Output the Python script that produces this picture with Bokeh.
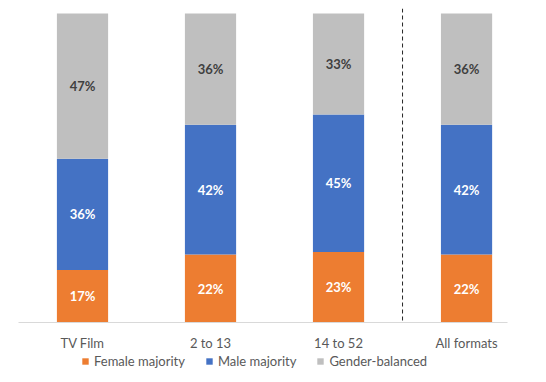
import numpy as np
from bokeh.plotting import figure
from bokeh.layouts import column
from bokeh.models import ColumnDataSource, Range1d, Span, Legend, LegendItem, FixedTicker
from bokeh.core.properties import value
from bokeh.embed import file_html
from bokeh.resources import INLINE

categories = ["TV Film", "2 to 13", "14 to 52", "All formats"]
female = [17, 22, 23, 22]
male = [36, 42, 45, 42]
balanced = [47, 36, 33, 36]
series_names = ["Female majority", "Male majority", "Gender-balanced"]
colors = ["#ED7D31", "#4472C4", "#BFBFBF"]
label_colors = ["white", "white", "#404040"]

FONT = "Lato"

p = figure(frame_width=489, frame_height=314, output_backend="svg", toolbar_location=None,
           x_range=Range1d(-0.5, 3.32), y_range=Range1d(0, 101.6),
           min_border_left=18, min_border_right=23, min_border_top=8, min_border_bottom=0)
p.outline_line_color = None
p.grid.grid_line_color = None
p.yaxis.visible = False

xs = np.arange(len(categories))
vals = np.array([female, male, balanced], dtype=float)
totals = vals.sum(axis=0)
shares = vals / totals * 100

bottom = np.zeros(len(categories))
for i, name in enumerate(series_names):
    top = bottom + shares[i]
    src = ColumnDataSource(dict(x=xs, bottom=bottom, top=top,
                                mid=(bottom + top) / 2,
                                lab=[f"{int(v)}%" for v in vals[i]]))
    p.vbar(x="x", bottom="bottom", top="top", width=0.4, source=src,
           fill_color=colors[i], line_color=None)
    p.text(x="x", y="mid", text="lab", source=src, text_align="center",
           text_baseline="middle", text_font=value(FONT), text_font_size="13px",
           text_font_style="bold", text_color=label_colors[i])
    bottom = top

p.add_layout(Span(location=2.5, dimension="height", line_color="#262626",
                  line_width=1, line_dash="4 3"))

ax = p.xaxis[0]
ax.ticker = FixedTicker(ticks=list(xs))
ax.major_label_overrides = {int(i): c for i, c in zip(xs, categories)}
ax.major_tick_line_color = None
ax.minor_tick_line_color = None
ax.axis_line_color = "#D9D9D9"
ax.axis_line_width = 1
ax.major_label_standoff = 6
ax.major_label_text_font = FONT
ax.major_label_text_font_size = "13px"
ax.major_label_text_color = "#595959"

# legend in a slim figure below (its swatch glyphs sit outside the visible range)
lf = figure(width=530, height=26, output_backend="svg", toolbar_location=None,
            x_axis_location=None, y_axis_location=None, min_border=0,
            x_range=Range1d(0, 1), y_range=Range1d(0, 1))
lf.outline_line_color = None
lf.grid.grid_line_color = None
lrs = [lf.rect(x=[-10], y=[-10], width=1, height=1, fill_color=c, line_color=None)
       for c in colors]
legend = Legend(items=[LegendItem(label=n, renderers=[r]) for n, r in zip(series_names, lrs)],
                orientation="horizontal", location=(63, 10),
                glyph_width=8, glyph_height=8, label_standoff=5, spacing=20,
                padding=0, margin=0, border_line_color=None, background_fill_alpha=0,
                label_height=14,
                label_text_font=FONT, label_text_font_size="13px",
                label_text_color="#595959")
lf.add_layout(legend, "center")

layout = column(p, lf, spacing=0)
open("out.html", "w").write(file_html(layout, INLINE))
